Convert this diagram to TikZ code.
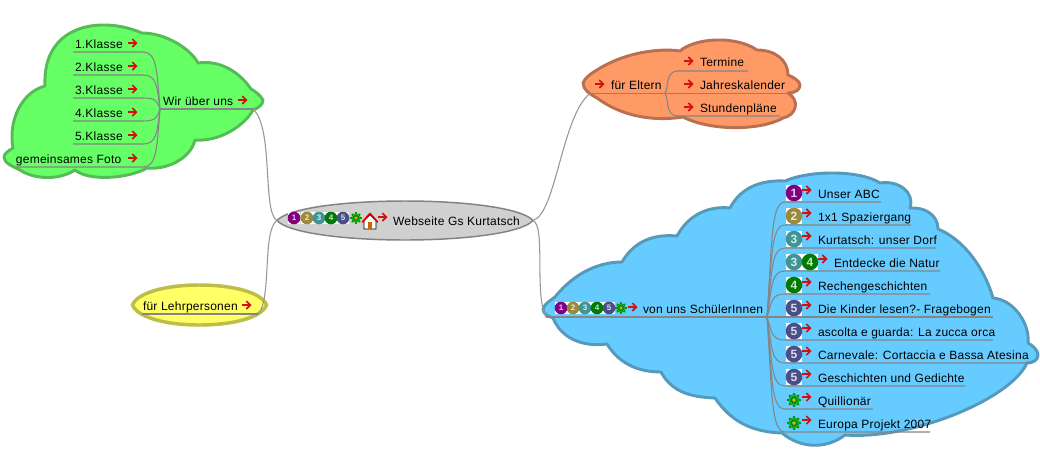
\documentclass[tikz,border=0pt]{standalone}
\usepackage{fontspec}
\setmainfont[LetterSpace=2]{Liberation Sans}
\usetikzlibrary{arrows.meta}
\definecolor{conn}{HTML}{858585}
\definecolor{arr}{HTML}{D40F0F}
\definecolor{cOne}{HTML}{800080}
\definecolor{cTwo}{HTML}{9A8A3C}
\definecolor{cThree}{HTML}{3F9595}
\definecolor{cFour}{HTML}{007A00}
\definecolor{cFive}{HTML}{4A4F8A}
\tikzset{
  lbl/.style={anchor=base west,inner sep=0pt,outer sep=0pt,font=\fontsize{9}{11}\selectfont,text=black},
  link/.style={draw=conn,line width=0.8pt},
  thinlink/.style={draw=conn!85!white,line width=0.8pt},
  cloud/.style={line width=2.2pt,line join=round},
  arrowmark/.style={draw=arr,line width=1.5pt,-{Straight Barb[length=3pt,width=6pt,line width=1.2pt]}},
}
% red arrow
\newcommand{\redmark}[2]{\draw[arrowmark] ({#1-5},#2) -- ({#1+4.5},#2);}
% numbered icon: x y radius colour number fontsize
\newcommand{\numicon}[6]{%
  \fill[white] ({#1-#3},{#2-#3}) rectangle ({#1+#3},{#2+#3});
  \fill[#4] (#1,#2) circle ({#3+0.3});
  \node[inner sep=0pt,text=white!80!#4,font=\fontsize{#6}{#6}\bfseries\selectfont] at (#1,#2) {#5};}
% flower icon
\newcommand{\flowericon}[3]{%
  \foreach \a in {0,45,...,315}{
    \fill[green!50!black,rotate around={\a:(#1,#2)}] ({#1+#3*0.6},#2) ellipse ({#3*0.42} and {#3*0.22});
    \fill[green!90!black,rotate around={\a:(#1,#2)}] ({#1+#3*0.6},#2) ellipse ({#3*0.26} and {#3*0.1});}
  \fill[orange!80!yellow] (#1,#2) circle ({#3*0.25});}
% blue-cloud row
\newcommand{\bluerow}[5]{%
  \pgfmathsetmacro{\cy}{#2+0.35*(317-#2)}
  \coordinate (br#1) at (785,#2);
  \coordinate (be#1) at (#3,#2);
  \node[lbl] (bt#1) at (#4,{#2-4}) {#5};
  \draw[link] (bhub) .. controls (772,\cy) and (771,#2) .. (br#1) -- (be#1);}
% green-cloud row
\newcommand{\greenrow}[5]{%
  \pgfmathsetmacro{\cy}{#2+0.35*(109-#2)}
  \coordinate (gr#1) at (#3,#2);
  \coordinate (ge#1) at (143,#2);
  \node[lbl] (gt#1) at (#4,{#2-4}) {#5};
  \redmark{133}{#2-9}
  \draw[link] (ghub) .. controls (157,\cy) and (157,#2) .. (ge#1) -- (gr#1);}
\begin{document}
\begin{tikzpicture}[x=0.75pt,y=-0.75pt]
\useasboundingbox (0,0) rectangle (1040,465);
\fill[white] (0,0) rectangle (1040,465);

% clouds
\draw[cloud,fill={rgb,255:red,102;green,255;blue,102},draw={rgb,255:red,85;green,187;blue,85}]
 (263,100) .. controls (260,95) and (255,91) .. (251,89)
 .. controls (238,70) and (218,60) .. (198,63)
 .. controls (190,48) and (165,33) .. (142,33)
 .. controls (100,15) and (42,25) .. (45,86)
 .. controls (22,92) and (8,120) .. (13,148)
 .. controls (8,151) and (4,154) .. (4,157)
 .. controls (4,163) and (12,166) .. (20,170)
 .. controls (35,180) and (60,180) .. (75,170)
 .. controls (90,182) and (130,178) .. (147,168)
 .. controls (165,170) and (190,160) .. (195,140)
 .. controls (220,142) and (245,125) .. (253,110)
 .. controls (258,108) and (263,105) .. (263,100) -- cycle;
\draw[cloud,fill={rgb,255:red,255;green,153;blue,102},draw={rgb,255:red,184;green,112;blue,80}]
 (583,83) .. controls (585,78) and (590,74) .. (597,70)
 .. controls (625,52) and (660,48) .. (680,51)
 .. controls (695,38) and (735,35) .. (757,50)
 .. controls (775,50) and (788,60) .. (788,75)
 .. controls (793,77) and (800,81) .. (800,85)
 .. controls (800,90) and (795,93) .. (788,93)
 .. controls (800,100) and (797,115) .. (783,118)
 .. controls (760,131) and (710,131) .. (683,117)
 .. controls (650,122) and (620,115) .. (597,98)
 .. controls (590,94) and (583,90) .. (583,83) -- cycle;
\draw[cloud,fill={rgb,255:red,102;green,204;blue,255},draw={rgb,255:red,85;green,153;blue,187}]
 (543,309) .. controls (545,303) and (550,301) .. (555,297)
 .. controls (575,272) and (600,262) .. (622,262)
 .. controls (635,240) and (655,234) .. (677,236)
 .. controls (690,212) and (712,206) .. (730,208)
 .. controls (742,185) and (765,180) .. (785,181)
 .. controls (810,170) and (860,170) .. (880,183)
 .. controls (898,180) and (915,192) .. (910,208)
 .. controls (925,207) and (938,215) .. (938,229)
 .. controls (965,240) and (985,270) .. (993,298)
 .. controls (1015,300) and (1030,325) .. (1028,343)
 .. controls (1032,345) and (1038,350) .. (1038,355)
 .. controls (1038,360) and (1033,363) .. (1027,363)
 .. controls (1010,400) and (910,440) .. (845,435)
 .. controls (825,450) and (800,448) .. (782,433)
 .. controls (750,432) and (730,420) .. (715,398)
 .. controls (690,397) and (672,392) .. (661,372)
 .. controls (640,372) and (620,365) .. (607,344)
 .. controls (585,347) and (562,340) .. (553,318)
 .. controls (548,316) and (543,314) .. (543,309) -- cycle;

% root and teacher ovals
\draw[line width=1.1pt,fill={rgb,255:red,208;green,208;blue,208},draw={rgb,255:red,130;green,130;blue,130}]
 (277,220.5) .. controls (288,208) and (345,201) .. (405,201)
 .. controls (465,201) and (522,208) .. (533,220.5)
 .. controls (522,233) and (465,240) .. (405,240)
 .. controls (345,240) and (288,233) .. (277,220.5) -- cycle;
\draw[line width=2.6pt,fill={rgb,255:red,255;green,255;blue,102},draw={rgb,255:red,190;green,190;blue,70}]
 (132.5,305) .. controls (137,293) and (165,285) .. (199,285)
 .. controls (235,285) and (262,293) .. (266.5,305)
 .. controls (262,317) and (235,325) .. (199,325)
 .. controls (165,325) and (137,317) .. (132.5,305) -- cycle;

% anchors
\coordinate (rootL) at (277,220.5);
\coordinate (rootR) at (533,220.5);
\coordinate (ghub) at (160,109);
\coordinate (gend) at (253,109);
\coordinate (lstart) at (142,314);
\coordinate (lend) at (258,314);
\coordinate (ostart) at (590,93.5);
\coordinate (ohub) at (665,93.5);
\coordinate (oe2) at (787,93.5);
\coordinate (or1) at (678,71);
\coordinate (oe1) at (748,71);
\coordinate (or3) at (678,116);
\coordinate (oe3) at (780,116);
\coordinate (bstart) at (546,317);
\coordinate (bhub) at (767,317);

% main connectors
\draw[thinlink] (rootL) .. controls (262,212) and (274,128) .. (gend);
\draw[thinlink] (rootL) .. controls (262,230) and (272,300) .. (lend);
\draw[thinlink] (rootR) .. controls (556,214) and (562,115) .. (ostart);
\draw[thinlink] (rootR) .. controls (546,226) and (534,295) .. (bstart);

\draw[link] (gend) -- (ghub);
\draw[link] (lstart) -- (lend);
\draw[link] (ostart) -- (ohub) -- (oe2);
\draw[link] (ohub) .. controls (669,88) and (665,71) .. (or1) -- (oe1);
\draw[link] (ohub) .. controls (669,99) and (665,116) .. (or3) -- (oe3);
\draw[link] (bstart) -- (bhub);

% green cloud
\greenrow{1}{52}{73}{75}{1.Klasse}
\greenrow{2}{75}{73}{75}{2.Klasse}
\greenrow{3}{98}{73}{75}{3.Klasse}
\greenrow{4}{121}{73}{75}{4.Klasse}
\greenrow{5}{144}{73}{75}{5.Klasse}
\greenrow{6}{167}{16}{16}{gemeinsames Foto}
\node[lbl] (wir) at (163,105) {Wir über uns};
\redmark{243}{100}

% teachers
\node[lbl] (lehr) at (143,310) {für Lehrpersonen};
\redmark{247}{305}

% root
\numicon{294}{218}{6}{cOne}{1}{6}
\numicon{307}{218}{6}{cTwo}{2}{6}
\numicon{319}{218}{6}{cThree}{3}{6}
\numicon{331}{218}{6}{cFour}{4}{6}
\numicon{343}{218}{6}{cFive}{5}{6}
\flowericon{356}{218}{6}
% house
\draw[black,line width=0.5pt,fill=white] (364,221) -- (364,229) -- (376,229) -- (376,221) -- (370,215) -- cycle;
\fill[orange!80!black] (368,222) rectangle (372,229);
\draw[red!85!black,line width=1.3pt,line cap=round,line join=round] (362.5,222) -- (370,213.5) -- (377.5,222);
\redmark{383}{217}
\node[lbl] (root) at (393,225) {Webseite Gs Kurtatsch};

% parents
\redmark{689}{61}
\node[lbl] (ot1) at (700,66) {Termine};
\redmark{689}{84}
\node[lbl] (ot2) at (700,89) {Jahreskalender};
\redmark{689}{107}
\node[lbl] (ot3) at (700,112) {Stundenpläne};
\redmark{600}{84}
\node[lbl] (eltern) at (611,89) {für Eltern};

% pupils
\numicon{561}{308}{6}{cOne}{1}{6}
\numicon{573}{308}{6}{cTwo}{2}{6}
\numicon{585}{308}{6}{cThree}{3}{6}
\numicon{597}{308}{6}{cFour}{4}{6}
\numicon{609}{308}{6}{cFive}{5}{6}
\flowericon{621}{308}{6}
\redmark{633}{307}
\node[lbl] (schueler) at (643,313) {von uns SchülerInnen};

\bluerow{1}{202}{881}{818}{Unser ABC}
\bluerow{2}{225}{911}{818}{1x1 Spaziergang}
\bluerow{3}{248}{936}{818}{Kurtatsch: unser Dorf}
\bluerow{4}{271}{940}{834}{Entdecke die Natur}
\bluerow{5}{294}{930}{818}{Rechengeschichten}
\bluerow{6}{317}{993}{818}{Die Kinder lesen?- Fragebogen}
\bluerow{7}{340}{993}{818}{ascolta e guarda: La zucca orca}
\bluerow{8}{363}{1030}{818}{Carnevale: Cortaccia e Bassa Atesina}
\bluerow{9}{386}{965}{818}{Geschichten und Gedichte}
\bluerow{10}{409}{873}{818}{Quillionär}
\bluerow{11}{432}{930}{818}{Europa Projekt 2007}

\numicon{794}{193}{8}{cOne}{1}{9}
\numicon{794}{216}{8}{cTwo}{2}{9}
\numicon{794}{239}{8}{cThree}{3}{9}
\numicon{794}{262}{8}{cThree}{3}{9}
\numicon{810}{262}{8}{cFour}{4}{9}
\numicon{794}{285}{8}{cFour}{4}{9}
\numicon{794}{308}{8}{cFive}{5}{9}
\numicon{794}{331}{8}{cFive}{5}{9}
\numicon{794}{354}{8}{cFive}{5}{9}
\numicon{794}{377}{8}{cFive}{5}{9}
\flowericon{794}{400}{7}
\flowericon{794}{423}{7}
\redmark{807}{190}
\redmark{807}{213}
\redmark{807}{236}
\redmark{823}{259}
\redmark{807}{282}
\redmark{807}{305}
\redmark{807}{328}
\redmark{807}{351}
\redmark{807}{374}
\redmark{807}{397}
\redmark{807}{420}
\end{tikzpicture}
\end{document}
